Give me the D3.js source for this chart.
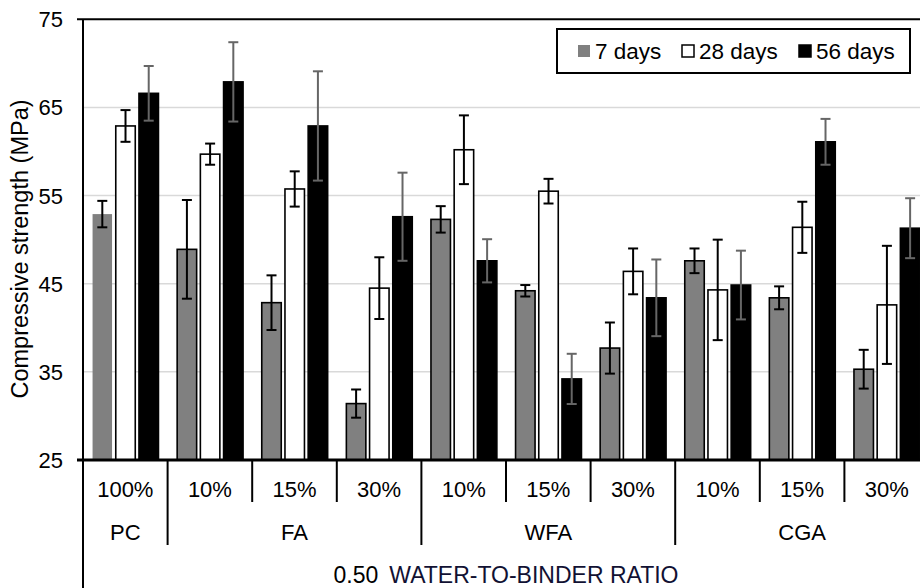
<!DOCTYPE html>
<html><head><meta charset="utf-8">
<script src="https://cdn.jsdelivr.net/npm/d3@7"></script>
<style>
body{margin:0;background:#fff;}
svg{display:block;font-family:"Liberation Sans",Arial,sans-serif;}
</style></head>
<body><svg id="c" width="920" height="588"></svg>
<script>
const categories = ["100%","10%","15%","30%","10%","15%","30%","10%","15%","30%"];
const groupNames = ["PC","FA","WFA","CGA"];
const groupSizes = [1,3,3,3];
const seriesNames = ["7 days","28 days","56 days"];
const values7  = [52.9,48.9,42.85,31.4,52.3,44.2,37.7,47.6,43.4,35.3];
const values28 = [62.9,59.7,55.75,44.5,60.2,55.5,46.4,44.3,51.4,42.6];
const values56 = [66.6,67.9,62.9,52.6,47.6,34.2,43.4,44.85,61.1,51.3];
const err7  = [1.5,5.6,3.1,1.6,1.5,0.65,2.9,1.4,1.3,2.2];
const err28 = [1.8,1.2,2.0,3.5,3.9,1.4,2.6,5.7,2.9,6.7];
const err56 = [3.1,4.5,6.2,5.0,2.45,2.85,4.35,3.9,2.6,3.4];
const yTicks = [25,35,45,55,65,75];
const yTitle = "Compressive strength (MPa)";
const xTitleA = "0.50", xTitleB = "WATER-TO-BINDER RATIO";

const seriesVals = [values7, values28, values56];
const seriesErr = [err7, err28, err56];
const fills = ["#808080","#ffffff","#000000"];
const errColors = ["#000","#000","#666"];

const svg = d3.select("#c");
const L = 83, R = 929, T = 19.3, B = 460;
const x0 = d3.scaleBand().domain(d3.range(categories.length)).range([L, R]).padding(0);
const bw = x0.bandwidth();
const x1 = d3.scaleBand().domain(d3.range(3)).range([bw*0.113, bw*0.892]).paddingInner(0.16);
const y = d3.scaleLinear().domain([25,75]).range([B, T]);

// gridlines
svg.append("g").selectAll("line").data(yTicks.filter(t=>t>25 && t<75)).join("line")
  .attr("x1", L).attr("x2", R).attr("y1", d=>y(d)).attr("y2", d=>y(d))
  .attr("stroke","#d9d9d9").attr("stroke-width",1.5);

// bars
const data = [];
categories.forEach((c,i)=>{ for(let s=0;s<3;s++) data.push({i,s,v:seriesVals[s][i],e:seriesErr[s][i]}); });
svg.append("g").selectAll("rect").data(data).join("rect")
  .attr("x", d=>x0(d.i)+x1(d.s)).attr("width", x1.bandwidth())
  .attr("y", d=>y(d.v)).attr("height", d=>B - y(d.v))
  .attr("fill", d=>fills[d.s])
  .attr("stroke", d=>(d.i===0 && d.s===0) ? "none" : "#000")
  .attr("stroke-width", 1.6);

// error bars
const eg = svg.append("g");
data.forEach(d=>{
  const cx = x0(d.i)+x1(d.s)+x1.bandwidth()/2;
  const y1 = y(d.v+d.e), y2 = y(d.v-d.e);
  const col = errColors[d.s];
  eg.append("line").attr("x1",cx).attr("x2",cx).attr("y1",y1).attr("y2",y2).attr("stroke",col).attr("stroke-width",2);
  [y1,y2].forEach(yy=>eg.append("line").attr("x1",cx-5).attr("x2",cx+5).attr("y1",yy).attr("y2",yy).attr("stroke",col).attr("stroke-width",2));
});

// axes lines
svg.append("line").attr("x1",77).attr("x2",920).attr("y1",T).attr("y2",T).attr("stroke","#000").attr("stroke-width",2);
svg.append("line").attr("x1",77).attr("x2",920).attr("y1",B).attr("y2",B).attr("stroke","#000").attr("stroke-width",3);
svg.append("line").attr("x1",L).attr("x2",L).attr("y1",T).attr("y2",588).attr("stroke","#000").attr("stroke-width",2);

// y tick labels
svg.append("g").selectAll("text").data(yTicks).join("text")
  .attr("x",63).attr("y",d=>y(d)).attr("dy","0.36em").attr("text-anchor","end")
  .attr("font-size",22).attr("fill","#000").text(d=>d);

// y title
svg.append("text").attr("transform","translate(28,249) rotate(-90)").attr("text-anchor","middle")
  .attr("font-size",23.5).attr("fill","#000").text(yTitle);

// category separators and labels
const groupStarts = [];
let acc = 0; groupSizes.forEach(n=>{groupStarts.push(acc); acc+=n;});
for(let i=1;i<categories.length;i++){
  const isGroup = groupStarts.includes(i);
  svg.append("line").attr("x1",x0(i)).attr("x2",x0(i)).attr("y1",B).attr("y2",isGroup?545:502)
    .attr("stroke","#000").attr("stroke-width",2);
}
svg.append("g").selectAll("text").data(categories).join("text")
  .attr("x",(d,i)=>x0(i)+bw/2).attr("y",497).attr("text-anchor","middle")
  .attr("font-size",22).attr("fill","#000").text(d=>d);
svg.append("g").selectAll("text").data(groupNames).join("text")
  .attr("x",(d,g)=>x0(groupStarts[g]) + bw*groupSizes[g]/2).attr("y",540).attr("text-anchor","middle")
  .attr("font-size",22).attr("fill","#000").text(d=>d);

// x title
const xt = svg.append("text").attr("x",506).attr("y",583).attr("text-anchor","middle").attr("font-size",23).attr("fill","#000");
xt.append("tspan").text(xTitleA);
xt.append("tspan").attr("dx",11).attr("fill","#111133").text(xTitleB);

// legend
const lg = svg.append("g");
lg.append("rect").attr("x",557).attr("y",29).attr("width",353).attr("height",44).attr("fill","#fff").attr("stroke","#000").attr("stroke-width",2);
const legX = [578, 682, 799];
seriesNames.forEach((n,s)=>{
  lg.append("rect").attr("x",legX[s]).attr("y",45).attr("width",12).attr("height",12)
    .attr("fill",fills[s]).attr("stroke", s===0 ? "none" : "#000").attr("stroke-width",1.5);
  lg.append("text").attr("x",legX[s]+17).attr("y",59).attr("font-size",22.5).attr("fill","#000").text(n);
});
</script></body></html>
